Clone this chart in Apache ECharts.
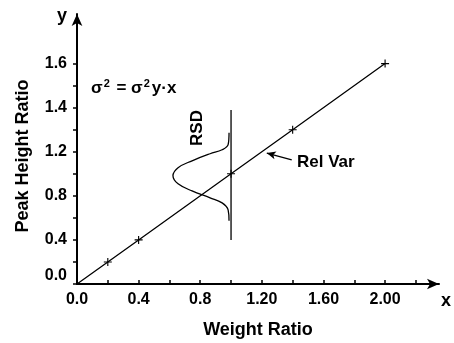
<!DOCTYPE html>
<html>
<head>
<meta charset="utf-8">
<script src="https://cdn.jsdelivr.net/npm/echarts@6/dist/echarts.min.js"></script>
<style>html,body{margin:0;padding:0;background:#fff}#c{width:454px;height:343px}</style>
</head>
<body>
<div id="c"></div>
<script>
// Data
const weightRatio = [0, 0.2, 0.4, 1.0, 1.4, 2.0];
const peakHeightRatio = [0, 0.2, 0.4, 1.0, 1.4, 2.0];
const xTickValues = [0, 0.4, 0.8, 1.2, 1.6, 2.0];
const xTickLabels = ['0.0', '0.4', '0.8', '1.20', '1.60', '2.00'];
const xMinorTicks = [0, 0.2, 0.4, 0.6, 0.8, 1.0, 1.2, 1.4, 1.6, 1.8, 2.0, 2.2];
const yTickValues = [0, 0.4, 0.8, 1.2, 1.6, 2.0];
const yTickLabels = ['0.0', '0.4', '0.8', '1.2', '1.4', '1.6'];
const yMinorTicks = [0, 0.2, 0.4, 0.6, 0.8, 1.0, 1.2, 1.4, 1.6, 1.8, 2.0];
// RSD distribution curve
const rsdX = [0.987, 0.981, 0.942, 0.864, 0.747, 0.656, 0.623, 0.656, 0.747, 0.864, 0.942, 0.981, 0.987];
const rsdY = [1.373, 1.264, 1.218, 1.182, 1.118, 1.055, 0.982, 0.909, 0.845, 0.782, 0.736, 0.673, 0.573];
// vertical RSD bar at x = 1.0
const rsdBarX = [1.0, 1.0];
const rsdBarY = [0.4, 1.58];
// Rel Var pointer (tail -> head)
const relVarArrowX = [1.394, 1.232];
const relVarArrowY = [1.127, 1.188];

const FONT = 'Liberation Sans, Arial, sans-serif';
const chart = echarts.init(document.getElementById('c'), null, {renderer: 'canvas'});
const crossPath = 'path://M4.3,0H5.7V4.3H10V5.7H5.7V10H4.3V5.7H0V4.3H4.3Z';

const mainData = weightRatio.map((x, i) => i === 0 ? {value: [x, peakHeightRatio[i]], symbol: 'none'} : [x, peakHeightRatio[i]]);
const rsdData = rsdX.map((x, i) => [x, rsdY[i]]);
const barData = rsdBarX.map((x, i) => [x, rsdBarY[i]]);

function lbl(values, labels) {
  return function (v) {
    const idx = values.findIndex(t => Math.abs(t - v) < 1e-6);
    return idx >= 0 ? labels[idx] : '';
  };
}

chart.setOption({
  animation: false,
  backgroundColor: '#fff',
  textStyle: {fontFamily: FONT, fontWeight: 'bold', color: '#000'},
  grid: {left: 77, top: 14, width: 362, height: 270, containLabel: false, outerBoundsMode: 'none'},
  xAxis: {
    type: 'value', min: 0, max: 2.35,
    name: 'Weight Ratio', nameLocation: 'middle', nameGap: 37, nameMoveOverlap: false,
    nameTextStyle: {fontFamily: FONT, fontWeight: 'bold', fontSize: 18, color: '#000'},
    axisLine: {onZero: false, lineStyle: {color: '#000', width: 2}, symbol: ['none', 'arrow'], symbolSize: [8, 12]},
    axisTick: {show: true, inside: true, length: 4, lineStyle: {color: '#000', width: 1.5}, customValues: xMinorTicks},
    axisLabel: {margin: 8, fontFamily: FONT, fontWeight: 'bold', fontSize: 16, color: '#000', customValues: xTickValues, formatter: lbl(xTickValues, xTickLabels), hideOverlap: false},
    splitLine: {show: false}
  },
  yAxis: {
    type: 'value', min: 0, max: 2.45,
    axisLine: {onZero: false, lineStyle: {color: '#000', width: 2}, symbol: ['none', 'arrow'], symbolSize: [8, 12]},
    axisTick: {show: true, inside: false, length: 4, lineStyle: {color: '#000', width: 1.5}, customValues: yMinorTicks},
    axisLabel: {margin: 10, fontFamily: FONT, fontWeight: 'bold', fontSize: 16, color: '#000', customValues: yTickValues, formatter: lbl(yTickValues, yTickLabels), verticalAlignMinLabel: 'bottom', hideOverlap: false},
    splitLine: {show: false}
  },
  series: [
    {
      type: 'line', data: mainData, symbol: crossPath, symbolSize: 8,
      itemStyle: {color: '#000'}, lineStyle: {color: '#000', width: 1.3}, z: 3
    },
    {
      type: 'line', data: rsdData, smooth: 0.4, symbol: 'none',
      lineStyle: {color: '#000', width: 1.3}, z: 2
    },
    {
      type: 'line', data: barData, symbol: 'none',
      lineStyle: {color: '#000', width: 1.3}, z: 2,
      markLine: {
        silent: true, symbol: ['none', 'arrow'], symbolSize: [6, 9], label: {show: false},
        lineStyle: {color: '#000', width: 1.3, type: 'solid'},
        data: [[{coord: [relVarArrowX[0], relVarArrowY[0]]}, {coord: [relVarArrowX[1], relVarArrowY[1]]}]]
      }
    }
  ],
  graphic: [
    {type: 'text', x: 23, y: 156, rotation: Math.PI / 2, style: {text: 'Peak Height Ratio', font: 'bold 18px ' + FONT, fill: '#000', align: 'center', verticalAlign: 'middle'}},
    {type: 'text', x: 62, y: 16, style: {text: 'y', font: 'bold 18px ' + FONT, fill: '#000', align: 'center', verticalAlign: 'middle'}},
    {type: 'text', x: 446, y: 301, style: {text: 'x', font: 'bold 18px ' + FONT, fill: '#000', align: 'center', verticalAlign: 'middle'}},
    {type: 'text', x: 91, y: 88, style: {
      text: '{a|σ}{s|2}{a| = σ}{s|2}{a|y·x}', align: 'left', verticalAlign: 'middle',
      rich: {
        a: {fontFamily: FONT, fontWeight: 'bold', fontSize: 17, fill: '#000', color: '#000'},
        s: {fontFamily: FONT, fontWeight: 'bold', fontSize: 11, fill: '#000', color: '#000', padding: [0, 2, 9, 1]}
      }
    }},
    {type: 'text', x: 297, y: 162, style: {text: 'Rel Var', font: 'bold 17px ' + FONT, fill: '#000', align: 'left', verticalAlign: 'middle'}},
    {type: 'text', x: 197, y: 128, rotation: Math.PI / 2, style: {text: 'RSD', font: 'bold 17px ' + FONT, fill: '#000', align: 'center', verticalAlign: 'middle'}}
  ]
});
</script>
</body>
</html>
